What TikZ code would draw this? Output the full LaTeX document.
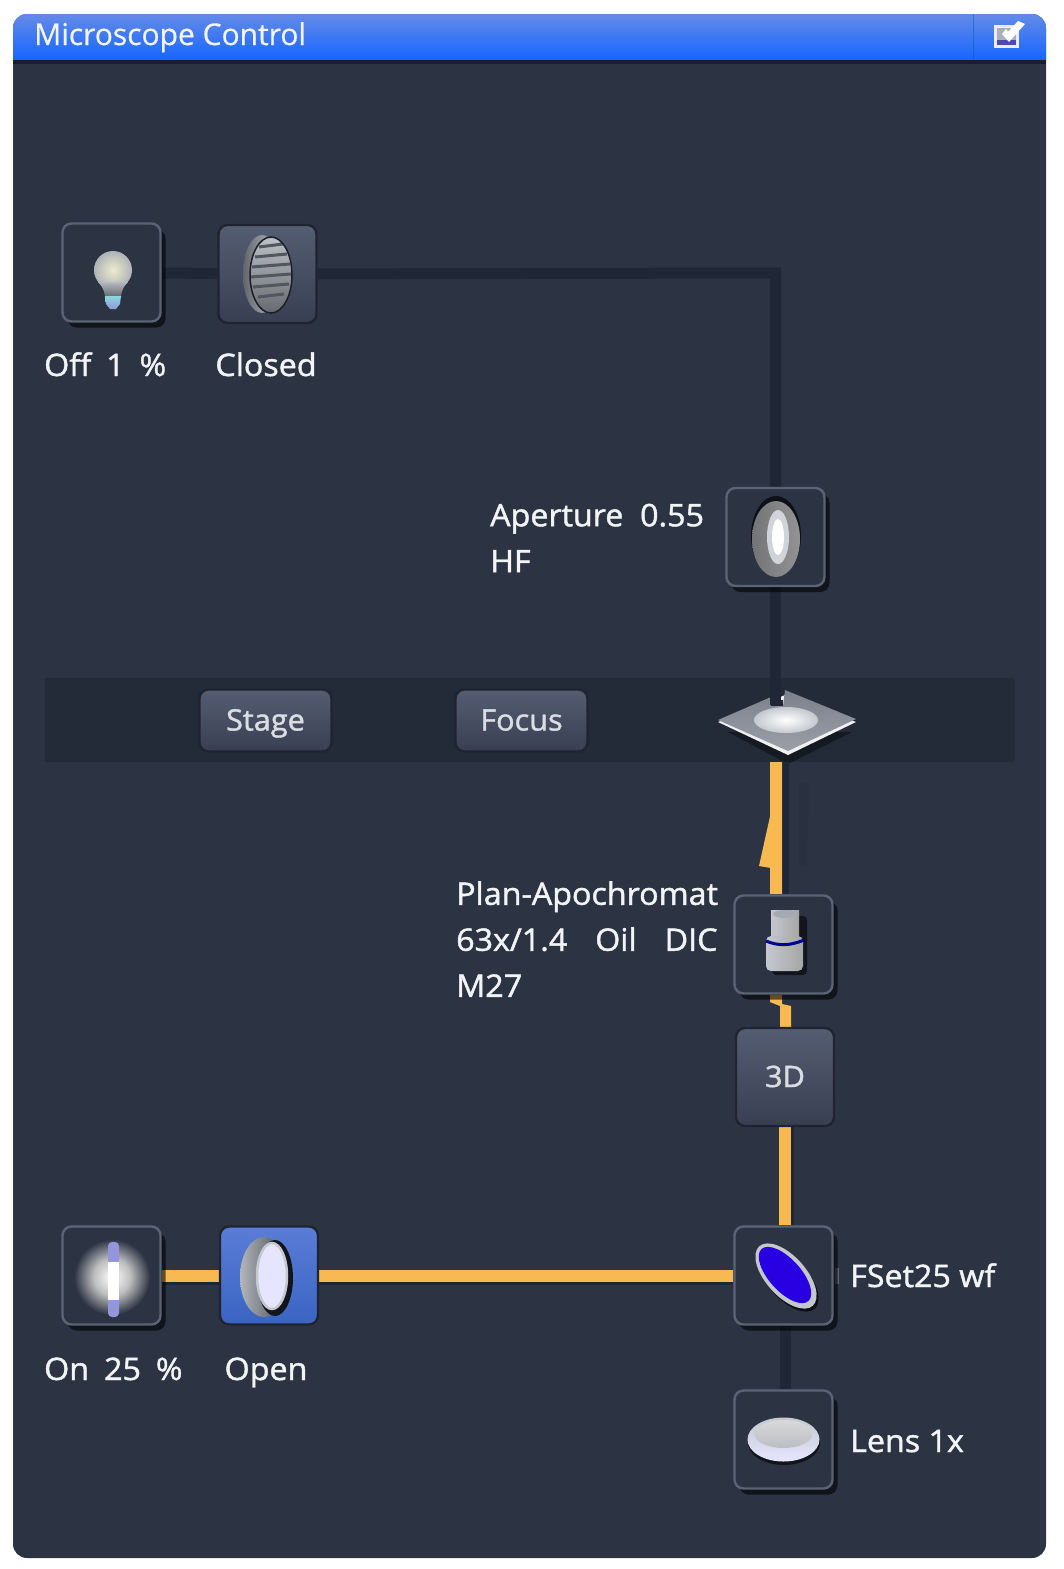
\documentclass[tikz,border=0pt]{standalone}
\usepackage{fontspec}
\setmainfont{Open Sans}
\newfontfamily\uifont{Open Sans}[FakeBold=1.4,FakeStretch=1.04]
\newfontfamily\titlefont{Open Sans}[FakeBold=0.6]
\usetikzlibrary{shadows,calc}
\definecolor{panel}{HTML}{2C3444}
\definecolor{bandc}{HTML}{232A38}
\definecolor{wire}{HTML}{1F2635}
\definecolor{beamc}{HTML}{F8BA50}
\definecolor{rimc}{HTML}{5A6474}
\definecolor{labelc}{HTML}{F2F4F6}
\definecolor{btntop}{HTML}{555D72}
\definecolor{btnbot}{HTML}{383F53}
\definecolor{filterblue}{HTML}{2800E1}
\definecolor{glowmid}{HTML}{BEBEBE}
\definecolor{silver}{HTML}{C4C8CE}
\definecolor{steel}{HTML}{8A8E98}
\pgfdeclareradialshading{lampglow}{\pgfpoint{0bp}{0bp}}{color(0bp)=(white);color(12bp)=(glowmid);color(25bp)=(panel);color(50bp)=(panel)}
\pgfdeclarelayer{back}
\pgfdeclarelayer{wires}
\pgfsetlayers{back,wires,main}
\tikzset{
  px/.style={x=1pt,y=-1pt},
  boxnode/.style={draw=rimc,line width=2.4pt,rounded corners=9pt,fill=panel,
    minimum width=98pt,minimum height=98pt,inner sep=0pt,
    drop shadow={shadow xshift=5pt,shadow yshift=-6pt,fill=black,opacity=.6}},
  btnnode/.style={draw=panel!70!black,line width=2.4pt,rounded corners=9pt,top color=btntop,bottom color=btnbot,
    inner sep=0pt,text=labelc!88!panel,font=\uifont\fontsize{29.5}{34}\selectfont,text height=20pt,text depth=0pt},
  lbl/.style={inner sep=0pt,text=labelc,align=left,font=\uifont\fontsize{31}{46}\selectfont},
  wireline/.style={draw=wire,line width=11pt},
  beamline/.style={draw=beamc,line width=12pt},
  beamshadow/.style={draw=wire,line width=6pt},
}
\begin{document}
\begin{tikzpicture}[px]
\useasboundingbox (0,0) rectangle (1064,1569);
\begin{pgfonlayer}{back}
  \fill[white] (0,0) rectangle (1064,1569);
  \fill[panel,rounded corners=14pt] (13,14) rectangle (1046,1558);
  \fill[bandc] (45,678) rectangle (1015,762);
  \begin{scope}
    \clip[rounded corners=14pt] (13,14) rectangle (1046,90);
    \path[top color={rgb,255:red,100;green,138;blue,232},bottom color={rgb,255:red,22;green,102;blue,255}] (13,14) rectangle (1046,60);
    \fill[wire!80!black] (13,60) rectangle (1046,64);
    \fill[panel] (13,64) rectangle (1046,90);
    \draw[blue!45!black!70!cyan,opacity=.4,line width=1pt] (973,14) -- (973,60);
  \end{scope}
  \coordinate (stage) at (787,722);
  \fill[black,opacity=.4] (728,732) -- (788,764) -- (852,732) -- cycle;
  \fill[white!88!gray] (718,722) -- (771,701) -- (785,695) -- (856,722) -- (788,755) -- cycle;
  \path[top color=steel!85!panel,bottom color=steel!85!white] (718,720) -- (771,697) -- (771,706) -- (783,706) -- (785,690) -- (856,719) -- (788,751) -- cycle;
  \shade[inner color=white,outer color=silver] (786,720) ellipse [x radius=32pt,y radius=13pt];
\end{pgfonlayer}
\node[lbl,anchor=base west,font=\titlefont\fontsize{30}{34}\selectfont] (title) at (34,45) {Microscope Control};
\node[boxnode] (bulb) at (111.5,272.5) {};
\node[btnnode,minimum width=98pt,minimum height=98pt] (closed) at (267.5,274) {};
\node[boxnode] (aperture) at (775.5,537) {};
\node[boxnode] (objective) at (783.5,944.5) {};
\node[btnnode,minimum width=98pt,minimum height=98pt] (threed) at (785,1077) {3D};
\node[boxnode] (lamp) at (111.5,1275.5) {};
\node[draw=panel!70!black,line width=2.4pt,rounded corners=9pt,top color={rgb,255:red,90;green,125;blue,215},bottom color={rgb,255:red,58;green,100;blue,195},minimum width=98pt,minimum height=98pt,inner sep=0pt] (open) at (269,1275.5) {};
\node[boxnode] (fset) at (783.5,1275.5) {};
\node[boxnode] (lens) at (783.5,1439.5) {};
\node[btnnode,minimum width=132pt,minimum height=62pt] (stagebtn) at (265.5,720.5) {Stage};
\node[btnnode,minimum width=132pt,minimum height=62pt] (focusbtn) at (521.5,720.5) {Focus};
\node[lbl,anchor=base west] (off) at (44,376) {Off\hspace{15pt}1\hspace{15pt}\%};
\node[lbl,anchor=base] (closedl) at (266,376) {Closed};
\node[lbl,anchor=west] (apl) at (490,538) {Aperture\ \ 0.55\\HF};
\node[lbl,anchor=west] (objl) at (456,939) {Plan-Apochromat\\63x/1.4\hspace{28pt}Oil\hspace{28pt}DIC\\M27};
\node[lbl,anchor=base west] (on) at (44,1380) {On\hspace{15pt}25\hspace{15pt}\%};
\node[lbl,anchor=base] (openl) at (266,1380) {Open};
\node[lbl,anchor=base west] (fsetl) at (850,1287) {FSet25 wf};
\node[lbl,anchor=base west] (lensl) at (850,1452) {Lens 1x};
\coordinate (turn) at (775.5,273);
\coordinate (stagein) at (777,705);
\coordinate (beamtop) at (776,762);
\begin{pgfonlayer}{wires}
  \draw[wireline] (bulb) -- (closed);
  \draw[wireline] (closed) -- (turn) -- (aperture);
  \draw[wireline] (aperture) -- (aperture |- stagein);
  \fill[wire] (771,700) rectangle (783,706);
  \draw[beamshadow] ($(beamtop)+(10,0)$) -- ($(beamtop |- objective.north)+(10,0)$);
  \fill[wire,opacity=.22] (799,783) -- (810,783) -- (806,866) -- (799,866) -- cycle;
  \draw[beamline] (beamtop) -- (beamtop |- objective.north);
  \fill[beamc] (771,812) -- (759,866) -- (771,868) -- cycle;
  \fill[beamc] (770,995) -- (770,1002) -- (780,1006) -- (780,1027) -- (791,1027) -- (791,1006) -- (782,1004) -- (782,995) -- cycle;
  \draw[beamshadow,line width=3pt] ($(threed.south)+(7,0)$) -- ($(threed.south |- fset.north)+(7,0)$);
  \draw[beamline] (threed.south) -- (threed.south |- fset.north);
  \draw[beamshadow,line width=3pt] ($(lamp.east)+(0,8)$) -- ($(open.west)+(0,8)$);
  \draw[beamshadow,line width=3pt] ($(open.east)+(0,8)$) -- ($(fset.west)+(0,8)$);
  \draw[beamline] (lamp) -- (open);
  \draw[beamline] (open) -- (fset);
  \draw[wireline] ($(fset.south)+(1.5,0)$) -- ($(lens.north)+(1.5,0)$);
  \fill[rimc] (fset.east) ++(1,-8) rectangle ++(4,16);
\end{pgfonlayer}
% title icon
\fill[white!92!blue] (994,25) rectangle (1019,48);
\fill[blue!50!black!70] (997,40) rectangle (1016,45);
\fill[rimc!50!white] (997,28) rectangle (1016,40);
\fill[white] (1002,34) -- (1006,29) -- (1008,32) -- (1018,21) -- (1025,24) -- (1009,42) -- cycle;
% bulb
\path[shade,inner color=white!85!yellow!85!gray,outer color=silver!70!gray] (113,270) circle [radius=19pt];
\path[shade,top color=silver!80!gray,bottom color=gray!60!panel] (98,282) .. controls (104,288) and (105,294) .. (105,298) -- (121,298) .. controls (121,294) and (122,288) .. (128,282) -- cycle;
\path[shade,top color=cyan!30!silver,bottom color=blue!25!silver] (105,296) -- (121,296) -- (120,304) -- (116,309) -- (110,309) -- (106,304) -- cycle;
% closed grille
\path[shade,left color=gray!65!panel,right color=silver] (262,274) ellipse [x radius=19pt,y radius=39pt];
\path[shade,top color=silver!90!gray,bottom color=gray!70!panel] (271,275) ellipse [x radius=21pt,y radius=38pt];
\foreach \yy/\hw in {246/12,256/16,266/19,276/20,286/18,296/13}
  \draw[panel!55!gray,line width=3pt] ($(271,\yy)+(-\hw,1)$) -- ($(271,\yy)+(\hw,-2)$);
\draw[black!40!panel,line width=1.5pt] (271,275) ellipse [x radius=21pt,y radius=38pt];
% aperture
\fill[black!70!panel] (776,536) ellipse [x radius=25pt,y radius=40pt];
\path[shade,left color=gray!85!panel,middle color=silver,right color=gray!85!white] (776,539) ellipse [x radius=24pt,y radius=38pt];
\fill[silver!80!white] (778,537) ellipse [x radius=11pt,y radius=27pt];
\fill[white] (778,537) ellipse [x radius=6pt,y radius=18pt];
% objective
\fill[black!60!panel,rounded corners=4pt] (772,916) rectangle (807,975);
\path[shade,left color=silver,middle color=white,right color=gray!70!white] (771,910) rectangle (799,938);
\path[shade,left color=silver,middle color=white,right color=gray!70!white,rounded corners=5pt] (766,936) rectangle (803,971);
\fill[rimc!55!white] (785,914) ellipse [x radius=12pt,y radius=4pt];
\draw[blue!60!black,line width=3pt] (766,941) .. controls (778,946) and (790,946) .. (804,940);
% lamp
\path[shading=lampglow] (112,1277) circle [radius=38pt];
\fill[blue!25!silver,rounded corners=4pt] (108,1242) rectangle (119,1317);
\fill[white] (108,1262) rectangle (119,1300);
% open shutter
\path[shade,left color=silver!75!gray,right color=gray!25!panel] (264,1277) ellipse [x radius=24pt,y radius=40pt];
\fill[black!60!panel] (275,1278) ellipse [x radius=18pt,y radius=38pt];
\draw[silver,line width=2.5pt,fill=white!90!blue] (272,1276) ellipse [x radius=15pt,y radius=33pt];
% filter
\fill[black!70!panel] (788,1279) ellipse [x radius=40pt,y radius=20pt,rotate=-48];
\fill[silver] (786,1276) ellipse [x radius=40pt,y radius=20pt,rotate=-48];
\fill[filterblue] (785,1275) ellipse [x radius=35pt,y radius=16pt,rotate=-48];
% lens
\fill[black!60!panel] (784,1443) ellipse [x radius=36pt,y radius=22pt];
\path[shade,top color=silver,bottom color=white!90!blue] (783.5,1439.5) ellipse [x radius=36pt,y radius=22pt];
\path[shade,top color=white!70!gray,bottom color=silver!85!gray] (783.5,1434) ellipse [x radius=29pt,y radius=14pt];
\end{tikzpicture}
\end{document}
